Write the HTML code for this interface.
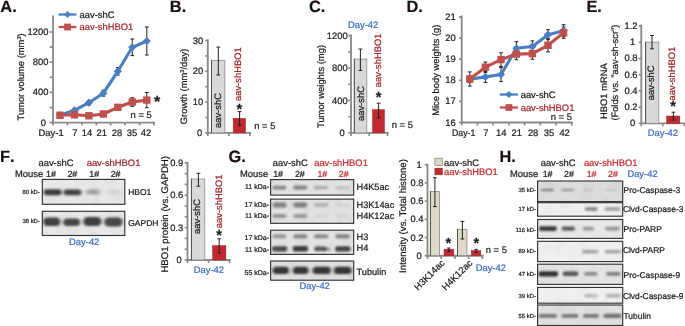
<!DOCTYPE html>
<html lang="en"><head><meta charset="utf-8"><title>Figure</title>
<style>html,body{margin:0;padding:0;background:#fff}svg{display:block}text{font-family:"Liberation Sans",Arial,Helvetica,sans-serif;text-rendering:geometricPrecision;stroke-width:0.22px;paint-order:stroke}</style></head><body>
<svg width="685" height="326" viewBox="0 0 685 326">
<defs><filter id="b0" x="-30%" y="-120%" width="160%" height="340%"><feGaussianBlur stdDeviation="1.3 1.0"/></filter><filter id="b1" x="-30%" y="-120%" width="160%" height="340%"><feGaussianBlur stdDeviation="1.5 1.2"/></filter><filter id="b2" x="-30%" y="-120%" width="160%" height="340%"><feGaussianBlur stdDeviation="2.0 1.5"/></filter><filter id="nz" x="0" y="0" width="100%" height="100%"><feTurbulence type="fractalNoise" baseFrequency="0.09" numOctaves="2" seed="7" result="t"/><feColorMatrix in="t" type="matrix" values="0 0 0 0 0  0 0 0 0 0  0 0 0 0 0  0.9 0 0 0 -0.36"/></filter></defs>
<rect x="0.0" y="0.0" width="685.0" height="326.0" fill="#ffffff" stroke="none" stroke-width="1.0"/>
<text x="0.3" y="11.7" font-size="16.4" font-weight="bold" fill="#1a1010" stroke="#1a1010" style="stroke-width:0.18px;font-kerning:none">A.</text>
<line x1="53.0" y1="15.4" x2="53.0" y2="123.5" stroke="#898989" stroke-width="1.85" stroke-linecap="butt"/>
<line x1="49.6" y1="122.6" x2="53.0" y2="122.6" stroke="#898989" stroke-width="1.665" stroke-linecap="butt"/>
<line x1="49.6" y1="107.5" x2="53.0" y2="107.5" stroke="#898989" stroke-width="1.665" stroke-linecap="butt"/>
<line x1="49.6" y1="92.4" x2="53.0" y2="92.4" stroke="#898989" stroke-width="1.665" stroke-linecap="butt"/>
<line x1="49.6" y1="77.3" x2="53.0" y2="77.3" stroke="#898989" stroke-width="1.665" stroke-linecap="butt"/>
<line x1="49.6" y1="62.2" x2="53.0" y2="62.2" stroke="#898989" stroke-width="1.665" stroke-linecap="butt"/>
<line x1="49.6" y1="47.1" x2="53.0" y2="47.1" stroke="#898989" stroke-width="1.665" stroke-linecap="butt"/>
<line x1="49.6" y1="32.0" x2="53.0" y2="32.0" stroke="#898989" stroke-width="1.665" stroke-linecap="butt"/>
<text x="46.0" y="125.6" font-size="9.4" fill="#1a1a1a" stroke="#1a1a1a" text-anchor="end">0</text>
<text x="48.4" y="95.4" font-size="9.4" fill="#1a1a1a" stroke="#1a1a1a" text-anchor="end">400</text>
<text x="48.4" y="65.2" font-size="9.4" fill="#1a1a1a" stroke="#1a1a1a" text-anchor="end">800</text>
<text x="48.4" y="35.0" font-size="9.4" fill="#1a1a1a" stroke="#1a1a1a" text-anchor="end">1200</text>
<line x1="52.1" y1="122.6" x2="154.9" y2="122.6" stroke="#898989" stroke-width="1.85" stroke-linecap="butt"/>
<line x1="53.0" y1="122.6" x2="53.0" y2="125.4" stroke="#898989" stroke-width="1.665" stroke-linecap="butt"/>
<line x1="67.4" y1="122.6" x2="67.4" y2="125.4" stroke="#898989" stroke-width="1.665" stroke-linecap="butt"/>
<line x1="81.9" y1="122.6" x2="81.9" y2="125.4" stroke="#898989" stroke-width="1.665" stroke-linecap="butt"/>
<line x1="96.3" y1="122.6" x2="96.3" y2="125.4" stroke="#898989" stroke-width="1.665" stroke-linecap="butt"/>
<line x1="110.7" y1="122.6" x2="110.7" y2="125.4" stroke="#898989" stroke-width="1.665" stroke-linecap="butt"/>
<line x1="125.2" y1="122.6" x2="125.2" y2="125.4" stroke="#898989" stroke-width="1.665" stroke-linecap="butt"/>
<line x1="139.6" y1="122.6" x2="139.6" y2="125.4" stroke="#898989" stroke-width="1.665" stroke-linecap="butt"/>
<line x1="154.0" y1="122.6" x2="154.0" y2="125.4" stroke="#898989" stroke-width="1.665" stroke-linecap="butt"/>
<text transform="translate(24.3 120.5) rotate(-90)" font-size="9.4" fill="#1a1a1a" stroke="#1a1a1a" text-anchor="start">Tumor volume (mm<tspan dy="-3.2" font-size="5.6">3</tspan><tspan dy="3.2">)</tspan></text>
<text x="74.8" y="136.4" font-size="9.4" fill="#1a1a1a" stroke="#1a1a1a" text-anchor="middle">7</text>
<text x="87.0" y="136.4" font-size="9.4" fill="#1a1a1a" stroke="#1a1a1a" text-anchor="middle">14</text>
<text x="101.8" y="136.4" font-size="9.4" fill="#1a1a1a" stroke="#1a1a1a" text-anchor="middle">21</text>
<text x="117.0" y="136.4" font-size="9.4" fill="#1a1a1a" stroke="#1a1a1a" text-anchor="middle">28</text>
<text x="132.0" y="136.4" font-size="9.4" fill="#1a1a1a" stroke="#1a1a1a" text-anchor="middle">35</text>
<text x="146.0" y="136.4" font-size="9.4" fill="#1a1a1a" stroke="#1a1a1a" text-anchor="middle">42</text>
<text x="38.6" y="136.4" font-size="9.4" fill="#1a1a1a" stroke="#1a1a1a" text-anchor="start">Day-1</text>
<line x1="60.0" y1="114.0" x2="60.0" y2="116.4" stroke="#1a1a1a" stroke-width="0.95" stroke-linecap="butt"/>
<line x1="58.1" y1="114.0" x2="61.9" y2="114.0" stroke="#1a1a1a" stroke-width="0.95" stroke-linecap="butt"/>
<line x1="58.1" y1="116.4" x2="61.9" y2="116.4" stroke="#1a1a1a" stroke-width="0.95" stroke-linecap="butt"/>
<line x1="74.5" y1="108.7" x2="74.5" y2="111.9" stroke="#1a1a1a" stroke-width="0.95" stroke-linecap="butt"/>
<line x1="72.6" y1="108.7" x2="76.4" y2="108.7" stroke="#1a1a1a" stroke-width="0.95" stroke-linecap="butt"/>
<line x1="72.6" y1="111.9" x2="76.4" y2="111.9" stroke="#1a1a1a" stroke-width="0.95" stroke-linecap="butt"/>
<line x1="88.9" y1="100.5" x2="88.9" y2="104.9" stroke="#1a1a1a" stroke-width="0.95" stroke-linecap="butt"/>
<line x1="87.0" y1="100.5" x2="90.8" y2="100.5" stroke="#1a1a1a" stroke-width="0.95" stroke-linecap="butt"/>
<line x1="87.0" y1="104.9" x2="90.8" y2="104.9" stroke="#1a1a1a" stroke-width="0.95" stroke-linecap="butt"/>
<line x1="103.4" y1="90.2" x2="103.4" y2="96.2" stroke="#1a1a1a" stroke-width="0.95" stroke-linecap="butt"/>
<line x1="101.5" y1="90.2" x2="105.3" y2="90.2" stroke="#1a1a1a" stroke-width="0.95" stroke-linecap="butt"/>
<line x1="101.5" y1="96.2" x2="105.3" y2="96.2" stroke="#1a1a1a" stroke-width="0.95" stroke-linecap="butt"/>
<line x1="117.8" y1="67.5" x2="117.8" y2="75.1" stroke="#1a1a1a" stroke-width="0.95" stroke-linecap="butt"/>
<line x1="115.9" y1="67.5" x2="119.7" y2="67.5" stroke="#1a1a1a" stroke-width="0.95" stroke-linecap="butt"/>
<line x1="115.9" y1="75.1" x2="119.7" y2="75.1" stroke="#1a1a1a" stroke-width="0.95" stroke-linecap="butt"/>
<line x1="132.3" y1="39.0" x2="132.3" y2="55.6" stroke="#1a1a1a" stroke-width="0.95" stroke-linecap="butt"/>
<line x1="130.4" y1="39.0" x2="134.2" y2="39.0" stroke="#1a1a1a" stroke-width="0.95" stroke-linecap="butt"/>
<line x1="130.4" y1="55.6" x2="134.2" y2="55.6" stroke="#1a1a1a" stroke-width="0.95" stroke-linecap="butt"/>
<line x1="146.8" y1="27.0" x2="146.8" y2="55.0" stroke="#1a1a1a" stroke-width="0.95" stroke-linecap="butt"/>
<line x1="144.9" y1="27.0" x2="148.7" y2="27.0" stroke="#1a1a1a" stroke-width="0.95" stroke-linecap="butt"/>
<line x1="144.9" y1="55.0" x2="148.7" y2="55.0" stroke="#1a1a1a" stroke-width="0.95" stroke-linecap="butt"/>
<line x1="60.0" y1="114.1" x2="60.0" y2="116.5" stroke="#1a1a1a" stroke-width="0.95" stroke-linecap="butt"/>
<line x1="58.1" y1="114.1" x2="61.9" y2="114.1" stroke="#1a1a1a" stroke-width="0.95" stroke-linecap="butt"/>
<line x1="58.1" y1="116.5" x2="61.9" y2="116.5" stroke="#1a1a1a" stroke-width="0.95" stroke-linecap="butt"/>
<line x1="74.5" y1="113.6" x2="74.5" y2="116.0" stroke="#1a1a1a" stroke-width="0.95" stroke-linecap="butt"/>
<line x1="72.6" y1="113.6" x2="76.4" y2="113.6" stroke="#1a1a1a" stroke-width="0.95" stroke-linecap="butt"/>
<line x1="72.6" y1="116.0" x2="76.4" y2="116.0" stroke="#1a1a1a" stroke-width="0.95" stroke-linecap="butt"/>
<line x1="88.9" y1="114.4" x2="88.9" y2="117.2" stroke="#1a1a1a" stroke-width="0.95" stroke-linecap="butt"/>
<line x1="87.0" y1="114.4" x2="90.8" y2="114.4" stroke="#1a1a1a" stroke-width="0.95" stroke-linecap="butt"/>
<line x1="87.0" y1="117.2" x2="90.8" y2="117.2" stroke="#1a1a1a" stroke-width="0.95" stroke-linecap="butt"/>
<line x1="103.4" y1="112.4" x2="103.4" y2="115.6" stroke="#1a1a1a" stroke-width="0.95" stroke-linecap="butt"/>
<line x1="101.5" y1="112.4" x2="105.3" y2="112.4" stroke="#1a1a1a" stroke-width="0.95" stroke-linecap="butt"/>
<line x1="101.5" y1="115.6" x2="105.3" y2="115.6" stroke="#1a1a1a" stroke-width="0.95" stroke-linecap="butt"/>
<line x1="117.8" y1="104.9" x2="117.8" y2="109.7" stroke="#1a1a1a" stroke-width="0.95" stroke-linecap="butt"/>
<line x1="115.9" y1="104.9" x2="119.7" y2="104.9" stroke="#1a1a1a" stroke-width="0.95" stroke-linecap="butt"/>
<line x1="115.9" y1="109.7" x2="119.7" y2="109.7" stroke="#1a1a1a" stroke-width="0.95" stroke-linecap="butt"/>
<line x1="132.3" y1="97.7" x2="132.3" y2="106.3" stroke="#1a1a1a" stroke-width="0.95" stroke-linecap="butt"/>
<line x1="130.4" y1="97.7" x2="134.2" y2="97.7" stroke="#1a1a1a" stroke-width="0.95" stroke-linecap="butt"/>
<line x1="130.4" y1="106.3" x2="134.2" y2="106.3" stroke="#1a1a1a" stroke-width="0.95" stroke-linecap="butt"/>
<line x1="146.8" y1="92.5" x2="146.8" y2="107.7" stroke="#1a1a1a" stroke-width="0.95" stroke-linecap="butt"/>
<line x1="144.9" y1="92.5" x2="148.7" y2="92.5" stroke="#1a1a1a" stroke-width="0.95" stroke-linecap="butt"/>
<line x1="144.9" y1="107.7" x2="148.7" y2="107.7" stroke="#1a1a1a" stroke-width="0.95" stroke-linecap="butt"/>
<polyline points="60.0,115.2 74.5,110.3 88.9,102.7 103.4,93.2 117.8,71.3 132.3,47.3 146.8,41.0" fill="none" stroke="#4a7ebf" stroke-width="3.1" stroke-linejoin="round" stroke-linecap="round"/>
<polygon points="55.9,115.2 60.0,111.1 64.1,115.2 60.0,119.3" fill="#4a7ebf"/>
<polygon points="70.4,110.3 74.5,106.2 78.6,110.3 74.5,114.4" fill="#4a7ebf"/>
<polygon points="84.8,102.7 88.9,98.6 93.0,102.7 88.9,106.8" fill="#4a7ebf"/>
<polygon points="99.3,93.2 103.4,89.1 107.5,93.2 103.4,97.3" fill="#4a7ebf"/>
<polygon points="113.7,71.3 117.8,67.2 121.9,71.3 117.8,75.4" fill="#4a7ebf"/>
<polygon points="128.2,47.3 132.3,43.2 136.4,47.3 132.3,51.4" fill="#4a7ebf"/>
<polygon points="142.7,41.0 146.8,36.9 150.9,41.0 146.8,45.1" fill="#4a7ebf"/>
<polyline points="60.0,115.3 74.5,114.8 88.9,115.8 103.4,114.0 117.8,107.3 132.3,102.0 146.8,100.1" fill="none" stroke="#c0504d" stroke-width="3.1" stroke-linejoin="round" stroke-linecap="round"/>
<rect x="56.3" y="111.6" width="7.4" height="7.4" fill="#c0504d" stroke="none" stroke-width="1.0"/>
<rect x="70.8" y="111.1" width="7.4" height="7.4" fill="#c0504d" stroke="none" stroke-width="1.0"/>
<rect x="85.2" y="112.1" width="7.4" height="7.4" fill="#c0504d" stroke="none" stroke-width="1.0"/>
<rect x="99.7" y="110.3" width="7.4" height="7.4" fill="#c0504d" stroke="none" stroke-width="1.0"/>
<rect x="114.1" y="103.6" width="7.4" height="7.4" fill="#c0504d" stroke="none" stroke-width="1.0"/>
<rect x="128.6" y="98.3" width="7.4" height="7.4" fill="#c0504d" stroke="none" stroke-width="1.0"/>
<rect x="143.1" y="96.4" width="7.4" height="7.4" fill="#c0504d" stroke="none" stroke-width="1.0"/>
<line x1="58.6" y1="14.5" x2="76.4" y2="14.5" stroke="#4a7ebf" stroke-width="2.3" stroke-linecap="butt"/>
<polygon points="64.0,14.5 67.5,11.0 71.0,14.5 67.5,18.0" fill="#4a7ebf"/>
<line x1="58.6" y1="27.0" x2="76.4" y2="27.0" stroke="#c0504d" stroke-width="2.3" stroke-linecap="butt"/>
<rect x="64.1" y="23.6" width="6.8" height="6.8" fill="#c0504d" stroke="none" stroke-width="1.0"/>
<text x="79.6" y="17.6" font-size="9.4" fill="#1a1a1a" stroke="#1a1a1a" text-anchor="start">aav-shC</text>
<text x="79.6" y="30.1" font-size="9.4" fill="#9e2428" stroke="#9e2428" text-anchor="start">aav-shHBO1</text>
<text x="130.6" y="118.2" font-size="9.4" fill="#1a1a1a" stroke="#1a1a1a" text-anchor="start">n = 5</text>
<text x="157.0" y="106.6" font-size="16" fill="#1a1a1a" stroke="#1a1a1a" text-anchor="middle" font-weight="bold">*</text>
<text x="169.8" y="11.7" font-size="16.4" font-weight="bold" fill="#1a1010" stroke="#1a1010" style="stroke-width:0.18px;font-kerning:none">B.</text>
<line x1="207.8" y1="39.3" x2="207.8" y2="133.8" stroke="#898989" stroke-width="1.85" stroke-linecap="butt"/>
<line x1="205.2" y1="132.9" x2="207.8" y2="132.9" stroke="#898989" stroke-width="1.665" stroke-linecap="butt"/>
<line x1="205.2" y1="117.5" x2="207.8" y2="117.5" stroke="#898989" stroke-width="1.665" stroke-linecap="butt"/>
<line x1="205.2" y1="102.1" x2="207.8" y2="102.1" stroke="#898989" stroke-width="1.665" stroke-linecap="butt"/>
<line x1="205.2" y1="86.7" x2="207.8" y2="86.7" stroke="#898989" stroke-width="1.665" stroke-linecap="butt"/>
<line x1="205.2" y1="71.3" x2="207.8" y2="71.3" stroke="#898989" stroke-width="1.665" stroke-linecap="butt"/>
<line x1="205.2" y1="55.9" x2="207.8" y2="55.9" stroke="#898989" stroke-width="1.665" stroke-linecap="butt"/>
<line x1="205.2" y1="40.5" x2="207.8" y2="40.5" stroke="#898989" stroke-width="1.665" stroke-linecap="butt"/>
<text x="202.3" y="135.9" font-size="9.4" fill="#1a1a1a" stroke="#1a1a1a" text-anchor="end">0</text>
<text x="203.2" y="105.1" font-size="9.4" fill="#1a1a1a" stroke="#1a1a1a" text-anchor="end">10</text>
<text x="203.2" y="74.3" font-size="9.4" fill="#1a1a1a" stroke="#1a1a1a" text-anchor="end">20</text>
<text x="203.2" y="43.5" font-size="9.4" fill="#1a1a1a" stroke="#1a1a1a" text-anchor="end">30</text>
<line x1="206.9" y1="132.9" x2="251.1" y2="132.9" stroke="#898989" stroke-width="1.85" stroke-linecap="butt"/>
<line x1="207.8" y1="132.9" x2="207.8" y2="135.9" stroke="#898989" stroke-width="1.665" stroke-linecap="butt"/>
<line x1="228.9" y1="132.9" x2="228.9" y2="135.9" stroke="#898989" stroke-width="1.665" stroke-linecap="butt"/>
<line x1="249.9" y1="132.9" x2="249.9" y2="135.9" stroke="#898989" stroke-width="1.665" stroke-linecap="butt"/>
<rect x="211.5" y="60.3" width="13.4" height="72.6" fill="#d9d9d9" stroke="#8c8c8c" stroke-width="0.8"/>
<line x1="211.5" y1="59.9" x2="211.5" y2="132.9" stroke="#3a3a3a" stroke-width="0.8" stroke-linecap="butt"/>
<line x1="218.3" y1="47.1" x2="218.3" y2="75.0" stroke="#1a1a1a" stroke-width="0.95" stroke-linecap="butt"/>
<line x1="216.4" y1="47.1" x2="220.2" y2="47.1" stroke="#1a1a1a" stroke-width="0.95" stroke-linecap="butt"/>
<line x1="216.4" y1="75.0" x2="220.2" y2="75.0" stroke="#1a1a1a" stroke-width="0.95" stroke-linecap="butt"/>
<rect x="233.2" y="118.3" width="12.3" height="14.6" fill="#be2a30" stroke="#a3242a" stroke-width="0.5"/>
<line x1="239.6" y1="111.6" x2="239.6" y2="125.4" stroke="#1a1a1a" stroke-width="0.95" stroke-linecap="butt"/>
<line x1="237.7" y1="111.6" x2="241.5" y2="111.6" stroke="#1a1a1a" stroke-width="0.95" stroke-linecap="butt"/>
<line x1="237.7" y1="125.4" x2="241.5" y2="125.4" stroke="#1a1a1a" stroke-width="0.95" stroke-linecap="butt"/>
<text transform="translate(220.9 128.0) rotate(-90)" font-size="9.4" fill="#1a1a1a" stroke="#1a1a1a" text-anchor="start">aav-shC</text>
<text transform="translate(241.4 101.0) rotate(-90)" font-size="9.4" fill="#9e2428" stroke="#9e2428" text-anchor="start">aav-shHBO1</text>
<text x="239.3" y="113.7" font-size="14.6" fill="#1a1a1a" stroke="#1a1a1a" text-anchor="middle" font-weight="bold">*</text>
<text x="254.3" y="129.3" font-size="9.4" fill="#1a1a1a" stroke="#1a1a1a" text-anchor="start">n = 5</text>
<text transform="translate(186.9 124.2) rotate(-90)" font-size="9.4" fill="#1a1a1a" stroke="#1a1a1a" text-anchor="start">Growth (mm<tspan dy="-3.2" font-size="5.6">3</tspan><tspan dy="3.2">/day)</tspan></text>
<text x="308.9" y="11.7" font-size="16.4" font-weight="bold" fill="#1a1010" stroke="#1a1010" style="stroke-width:0.18px;font-kerning:none">C.</text>
<line x1="351.0" y1="34.5" x2="351.0" y2="133.8" stroke="#898989" stroke-width="1.85" stroke-linecap="butt"/>
<line x1="348.2" y1="132.9" x2="351.0" y2="132.9" stroke="#898989" stroke-width="1.665" stroke-linecap="butt"/>
<line x1="348.2" y1="116.7" x2="351.0" y2="116.7" stroke="#898989" stroke-width="1.665" stroke-linecap="butt"/>
<line x1="348.2" y1="100.5" x2="351.0" y2="100.5" stroke="#898989" stroke-width="1.665" stroke-linecap="butt"/>
<line x1="348.2" y1="84.3" x2="351.0" y2="84.3" stroke="#898989" stroke-width="1.665" stroke-linecap="butt"/>
<line x1="348.2" y1="68.1" x2="351.0" y2="68.1" stroke="#898989" stroke-width="1.665" stroke-linecap="butt"/>
<line x1="348.2" y1="51.9" x2="351.0" y2="51.9" stroke="#898989" stroke-width="1.665" stroke-linecap="butt"/>
<line x1="348.2" y1="35.7" x2="351.0" y2="35.7" stroke="#898989" stroke-width="1.665" stroke-linecap="butt"/>
<text x="344.7" y="135.9" font-size="9.4" fill="#1a1a1a" stroke="#1a1a1a" text-anchor="end">0</text>
<text x="347.7" y="103.5" font-size="9.4" fill="#1a1a1a" stroke="#1a1a1a" text-anchor="end">400</text>
<text x="347.7" y="71.1" font-size="9.4" fill="#1a1a1a" stroke="#1a1a1a" text-anchor="end">800</text>
<text x="347.7" y="38.7" font-size="9.4" fill="#1a1a1a" stroke="#1a1a1a" text-anchor="end">1200</text>
<line x1="350.1" y1="132.9" x2="388.7" y2="132.9" stroke="#898989" stroke-width="1.85" stroke-linecap="butt"/>
<line x1="351.0" y1="132.9" x2="351.0" y2="135.9" stroke="#898989" stroke-width="1.665" stroke-linecap="butt"/>
<line x1="369.2" y1="132.9" x2="369.2" y2="135.9" stroke="#898989" stroke-width="1.665" stroke-linecap="butt"/>
<line x1="387.5" y1="132.9" x2="387.5" y2="135.9" stroke="#898989" stroke-width="1.665" stroke-linecap="butt"/>
<rect x="354.3" y="59.1" width="12.5" height="73.8" fill="#d9d9d9" stroke="#8c8c8c" stroke-width="0.8"/>
<line x1="354.3" y1="58.7" x2="354.3" y2="132.9" stroke="#3a3a3a" stroke-width="0.8" stroke-linecap="butt"/>
<line x1="360.4" y1="49.0" x2="360.4" y2="70.4" stroke="#1a1a1a" stroke-width="0.95" stroke-linecap="butt"/>
<line x1="358.5" y1="49.0" x2="362.3" y2="49.0" stroke="#1a1a1a" stroke-width="0.95" stroke-linecap="butt"/>
<line x1="358.5" y1="70.4" x2="362.3" y2="70.4" stroke="#1a1a1a" stroke-width="0.95" stroke-linecap="butt"/>
<rect x="372.5" y="109.6" width="12.0" height="23.3" fill="#be2a30" stroke="#a3242a" stroke-width="0.5"/>
<line x1="378.6" y1="103.2" x2="378.6" y2="117.8" stroke="#1a1a1a" stroke-width="0.95" stroke-linecap="butt"/>
<line x1="376.7" y1="103.2" x2="380.5" y2="103.2" stroke="#1a1a1a" stroke-width="0.95" stroke-linecap="butt"/>
<line x1="376.7" y1="117.8" x2="380.5" y2="117.8" stroke="#1a1a1a" stroke-width="0.95" stroke-linecap="butt"/>
<text transform="translate(363.7 121.0) rotate(-90)" font-size="9.4" fill="#1a1a1a" stroke="#1a1a1a" text-anchor="start">aav-shC</text>
<text transform="translate(380.6 87.2) rotate(-90)" font-size="9.4" fill="#9e2428" stroke="#9e2428" text-anchor="start">aav-shHBO1</text>
<text x="378.6" y="101.9" font-size="14.6" fill="#1a1a1a" stroke="#1a1a1a" text-anchor="middle" font-weight="bold">*</text>
<text x="391.8" y="128.3" font-size="9.4" fill="#1a1a1a" stroke="#1a1a1a" text-anchor="start">n = 5</text>
<text x="348.0" y="27.6" font-size="9.4" fill="#3a6bc2" stroke="#3a6bc2" text-anchor="start">Day-42</text>
<text transform="translate(324.4 128.0) rotate(-90)" font-size="9.4" fill="#1a1a1a" stroke="#1a1a1a" text-anchor="start">Tumor weights (mg)</text>
<text x="406.5" y="11.7" font-size="16.4" font-weight="bold" fill="#1a1010" stroke="#1a1010" style="stroke-width:0.18px;font-kerning:none">D.</text>
<line x1="461.7" y1="15.5" x2="461.7" y2="123.4" stroke="#898989" stroke-width="1.85" stroke-linecap="butt"/>
<line x1="458.9" y1="122.5" x2="461.7" y2="122.5" stroke="#898989" stroke-width="1.665" stroke-linecap="butt"/>
<line x1="458.9" y1="101.4" x2="461.7" y2="101.4" stroke="#898989" stroke-width="1.665" stroke-linecap="butt"/>
<line x1="458.9" y1="80.3" x2="461.7" y2="80.3" stroke="#898989" stroke-width="1.665" stroke-linecap="butt"/>
<line x1="458.9" y1="59.2" x2="461.7" y2="59.2" stroke="#898989" stroke-width="1.665" stroke-linecap="butt"/>
<line x1="458.9" y1="38.1" x2="461.7" y2="38.1" stroke="#898989" stroke-width="1.665" stroke-linecap="butt"/>
<line x1="458.9" y1="17.0" x2="461.7" y2="17.0" stroke="#898989" stroke-width="1.665" stroke-linecap="butt"/>
<text x="455.7" y="125.5" font-size="9.4" fill="#1a1a1a" stroke="#1a1a1a" text-anchor="end">16</text>
<text x="455.7" y="104.4" font-size="9.4" fill="#1a1a1a" stroke="#1a1a1a" text-anchor="end">17</text>
<text x="455.7" y="83.3" font-size="9.4" fill="#1a1a1a" stroke="#1a1a1a" text-anchor="end">18</text>
<text x="455.7" y="62.2" font-size="9.4" fill="#1a1a1a" stroke="#1a1a1a" text-anchor="end">19</text>
<text x="455.7" y="41.1" font-size="9.4" fill="#1a1a1a" stroke="#1a1a1a" text-anchor="end">20</text>
<text x="455.7" y="20.0" font-size="9.4" fill="#1a1a1a" stroke="#1a1a1a" text-anchor="end">21</text>
<line x1="460.8" y1="122.5" x2="572.9" y2="122.5" stroke="#898989" stroke-width="1.85" stroke-linecap="butt"/>
<line x1="461.7" y1="122.5" x2="461.7" y2="125.5" stroke="#898989" stroke-width="1.665" stroke-linecap="butt"/>
<line x1="477.4" y1="122.5" x2="477.4" y2="125.5" stroke="#898989" stroke-width="1.665" stroke-linecap="butt"/>
<line x1="493.1" y1="122.5" x2="493.1" y2="125.5" stroke="#898989" stroke-width="1.665" stroke-linecap="butt"/>
<line x1="508.9" y1="122.5" x2="508.9" y2="125.5" stroke="#898989" stroke-width="1.665" stroke-linecap="butt"/>
<line x1="524.6" y1="122.5" x2="524.6" y2="125.5" stroke="#898989" stroke-width="1.665" stroke-linecap="butt"/>
<line x1="540.3" y1="122.5" x2="540.3" y2="125.5" stroke="#898989" stroke-width="1.665" stroke-linecap="butt"/>
<line x1="556.0" y1="122.5" x2="556.0" y2="125.5" stroke="#898989" stroke-width="1.665" stroke-linecap="butt"/>
<line x1="571.7" y1="122.5" x2="571.7" y2="125.5" stroke="#898989" stroke-width="1.665" stroke-linecap="butt"/>
<text x="485.9" y="136.3" font-size="9.4" fill="#1a1a1a" stroke="#1a1a1a" text-anchor="middle">7</text>
<text x="501.2" y="136.3" font-size="9.4" fill="#1a1a1a" stroke="#1a1a1a" text-anchor="middle">14</text>
<text x="516.8" y="136.3" font-size="9.4" fill="#1a1a1a" stroke="#1a1a1a" text-anchor="middle">21</text>
<text x="533.1" y="136.3" font-size="9.4" fill="#1a1a1a" stroke="#1a1a1a" text-anchor="middle">28</text>
<text x="549.0" y="136.3" font-size="9.4" fill="#1a1a1a" stroke="#1a1a1a" text-anchor="middle">35</text>
<text x="564.6" y="136.3" font-size="9.4" fill="#1a1a1a" stroke="#1a1a1a" text-anchor="middle">42</text>
<text x="452.0" y="136.3" font-size="9.4" fill="#1a1a1a" stroke="#1a1a1a" text-anchor="start" textLength="23.3" lengthAdjust="spacingAndGlyphs">Day-1</text>
<line x1="469.8" y1="75.8" x2="469.8" y2="82.6" stroke="#1a1a1a" stroke-width="0.95" stroke-linecap="butt"/>
<line x1="467.9" y1="75.8" x2="471.7" y2="75.8" stroke="#1a1a1a" stroke-width="0.95" stroke-linecap="butt"/>
<line x1="467.9" y1="82.6" x2="471.7" y2="82.6" stroke="#1a1a1a" stroke-width="0.95" stroke-linecap="butt"/>
<line x1="485.4" y1="71.4" x2="485.4" y2="82.4" stroke="#1a1a1a" stroke-width="0.95" stroke-linecap="butt"/>
<line x1="483.5" y1="71.4" x2="487.3" y2="71.4" stroke="#1a1a1a" stroke-width="0.95" stroke-linecap="butt"/>
<line x1="483.5" y1="82.4" x2="487.3" y2="82.4" stroke="#1a1a1a" stroke-width="0.95" stroke-linecap="butt"/>
<line x1="501.0" y1="67.4" x2="501.0" y2="81.6" stroke="#1a1a1a" stroke-width="0.95" stroke-linecap="butt"/>
<line x1="499.1" y1="67.4" x2="502.9" y2="67.4" stroke="#1a1a1a" stroke-width="0.95" stroke-linecap="butt"/>
<line x1="499.1" y1="81.6" x2="502.9" y2="81.6" stroke="#1a1a1a" stroke-width="0.95" stroke-linecap="butt"/>
<line x1="516.4" y1="41.7" x2="516.4" y2="54.9" stroke="#1a1a1a" stroke-width="0.95" stroke-linecap="butt"/>
<line x1="514.5" y1="41.7" x2="518.3" y2="41.7" stroke="#1a1a1a" stroke-width="0.95" stroke-linecap="butt"/>
<line x1="514.5" y1="54.9" x2="518.3" y2="54.9" stroke="#1a1a1a" stroke-width="0.95" stroke-linecap="butt"/>
<line x1="532.4" y1="40.9" x2="532.4" y2="52.1" stroke="#1a1a1a" stroke-width="0.95" stroke-linecap="butt"/>
<line x1="530.5" y1="40.9" x2="534.3" y2="40.9" stroke="#1a1a1a" stroke-width="0.95" stroke-linecap="butt"/>
<line x1="530.5" y1="52.1" x2="534.3" y2="52.1" stroke="#1a1a1a" stroke-width="0.95" stroke-linecap="butt"/>
<line x1="548.0" y1="29.7" x2="548.0" y2="39.7" stroke="#1a1a1a" stroke-width="0.95" stroke-linecap="butt"/>
<line x1="546.1" y1="29.7" x2="549.9" y2="29.7" stroke="#1a1a1a" stroke-width="0.95" stroke-linecap="butt"/>
<line x1="546.1" y1="39.7" x2="549.9" y2="39.7" stroke="#1a1a1a" stroke-width="0.95" stroke-linecap="butt"/>
<line x1="563.6" y1="24.7" x2="563.6" y2="36.7" stroke="#1a1a1a" stroke-width="0.95" stroke-linecap="butt"/>
<line x1="561.7" y1="24.7" x2="565.5" y2="24.7" stroke="#1a1a1a" stroke-width="0.95" stroke-linecap="butt"/>
<line x1="561.7" y1="36.7" x2="565.5" y2="36.7" stroke="#1a1a1a" stroke-width="0.95" stroke-linecap="butt"/>
<line x1="469.8" y1="71.9" x2="469.8" y2="86.1" stroke="#1a1a1a" stroke-width="0.95" stroke-linecap="butt"/>
<line x1="467.9" y1="71.9" x2="471.7" y2="71.9" stroke="#1a1a1a" stroke-width="0.95" stroke-linecap="butt"/>
<line x1="467.9" y1="86.1" x2="471.7" y2="86.1" stroke="#1a1a1a" stroke-width="0.95" stroke-linecap="butt"/>
<line x1="485.4" y1="62.0" x2="485.4" y2="72.4" stroke="#1a1a1a" stroke-width="0.95" stroke-linecap="butt"/>
<line x1="483.5" y1="62.0" x2="487.3" y2="62.0" stroke="#1a1a1a" stroke-width="0.95" stroke-linecap="butt"/>
<line x1="483.5" y1="72.4" x2="487.3" y2="72.4" stroke="#1a1a1a" stroke-width="0.95" stroke-linecap="butt"/>
<line x1="501.0" y1="52.8" x2="501.0" y2="66.4" stroke="#1a1a1a" stroke-width="0.95" stroke-linecap="butt"/>
<line x1="499.1" y1="52.8" x2="502.9" y2="52.8" stroke="#1a1a1a" stroke-width="0.95" stroke-linecap="butt"/>
<line x1="499.1" y1="66.4" x2="502.9" y2="66.4" stroke="#1a1a1a" stroke-width="0.95" stroke-linecap="butt"/>
<line x1="516.4" y1="48.5" x2="516.4" y2="59.7" stroke="#1a1a1a" stroke-width="0.95" stroke-linecap="butt"/>
<line x1="514.5" y1="48.5" x2="518.3" y2="48.5" stroke="#1a1a1a" stroke-width="0.95" stroke-linecap="butt"/>
<line x1="514.5" y1="59.7" x2="518.3" y2="59.7" stroke="#1a1a1a" stroke-width="0.95" stroke-linecap="butt"/>
<line x1="532.4" y1="48.0" x2="532.4" y2="59.2" stroke="#1a1a1a" stroke-width="0.95" stroke-linecap="butt"/>
<line x1="530.5" y1="48.0" x2="534.3" y2="48.0" stroke="#1a1a1a" stroke-width="0.95" stroke-linecap="butt"/>
<line x1="530.5" y1="59.2" x2="534.3" y2="59.2" stroke="#1a1a1a" stroke-width="0.95" stroke-linecap="butt"/>
<line x1="548.0" y1="38.7" x2="548.0" y2="51.9" stroke="#1a1a1a" stroke-width="0.95" stroke-linecap="butt"/>
<line x1="546.1" y1="38.7" x2="549.9" y2="38.7" stroke="#1a1a1a" stroke-width="0.95" stroke-linecap="butt"/>
<line x1="546.1" y1="51.9" x2="549.9" y2="51.9" stroke="#1a1a1a" stroke-width="0.95" stroke-linecap="butt"/>
<line x1="563.6" y1="27.1" x2="563.6" y2="38.3" stroke="#1a1a1a" stroke-width="0.95" stroke-linecap="butt"/>
<line x1="561.7" y1="27.1" x2="565.5" y2="27.1" stroke="#1a1a1a" stroke-width="0.95" stroke-linecap="butt"/>
<line x1="561.7" y1="38.3" x2="565.5" y2="38.3" stroke="#1a1a1a" stroke-width="0.95" stroke-linecap="butt"/>
<polyline points="469.8,79.2 485.4,76.9 501.0,74.5 516.4,48.3 532.4,46.5 548.0,34.7 563.6,30.7" fill="none" stroke="#4a7ebf" stroke-width="3.1" stroke-linejoin="round" stroke-linecap="round"/>
<polygon points="465.7,79.2 469.8,75.1 473.9,79.2 469.8,83.3" fill="#4a7ebf"/>
<polygon points="481.3,76.9 485.4,72.8 489.5,76.9 485.4,81.0" fill="#4a7ebf"/>
<polygon points="496.9,74.5 501.0,70.4 505.1,74.5 501.0,78.6" fill="#4a7ebf"/>
<polygon points="512.3,48.3 516.4,44.2 520.5,48.3 516.4,52.4" fill="#4a7ebf"/>
<polygon points="528.3,46.5 532.4,42.4 536.5,46.5 532.4,50.6" fill="#4a7ebf"/>
<polygon points="543.9,34.7 548.0,30.6 552.1,34.7 548.0,38.8" fill="#4a7ebf"/>
<polygon points="559.5,30.7 563.6,26.6 567.7,30.7 563.6,34.8" fill="#4a7ebf"/>
<polyline points="469.8,79.0 485.4,67.2 501.0,59.6 516.4,54.1 532.4,53.6 548.0,45.3 563.6,32.7" fill="none" stroke="#c0504d" stroke-width="3.1" stroke-linejoin="round" stroke-linecap="round"/>
<rect x="466.1" y="75.3" width="7.4" height="7.4" fill="#c0504d" stroke="none" stroke-width="1.0"/>
<rect x="481.7" y="63.5" width="7.4" height="7.4" fill="#c0504d" stroke="none" stroke-width="1.0"/>
<rect x="497.3" y="55.9" width="7.4" height="7.4" fill="#c0504d" stroke="none" stroke-width="1.0"/>
<rect x="512.7" y="50.4" width="7.4" height="7.4" fill="#c0504d" stroke="none" stroke-width="1.0"/>
<rect x="528.7" y="49.9" width="7.4" height="7.4" fill="#c0504d" stroke="none" stroke-width="1.0"/>
<rect x="544.3" y="41.6" width="7.4" height="7.4" fill="#c0504d" stroke="none" stroke-width="1.0"/>
<rect x="559.9" y="29.0" width="7.4" height="7.4" fill="#c0504d" stroke="none" stroke-width="1.0"/>
<line x1="499.8" y1="94.5" x2="517.9" y2="94.5" stroke="#4a7ebf" stroke-width="2.3" stroke-linecap="butt"/>
<polygon points="505.4,94.5 508.9,91.0 512.4,94.5 508.9,98.0" fill="#4a7ebf"/>
<line x1="499.8" y1="107.5" x2="517.9" y2="107.5" stroke="#c0504d" stroke-width="2.3" stroke-linecap="butt"/>
<rect x="505.5" y="104.1" width="6.8" height="6.8" fill="#c0504d" stroke="none" stroke-width="1.0"/>
<text x="520.7" y="97.7" font-size="9.4" fill="#1a1a1a" stroke="#1a1a1a" text-anchor="start">aav-shC</text>
<text x="520.7" y="110.7" font-size="9.4" fill="#9e2428" stroke="#9e2428" text-anchor="start">aav-shHBO1</text>
<text x="550.8" y="120.4" font-size="9.4" fill="#1a1a1a" stroke="#1a1a1a" text-anchor="start">n = 5</text>
<text transform="translate(438.8 115.8) rotate(-90)" font-size="9.4" fill="#1a1a1a" stroke="#1a1a1a" text-anchor="start">Mice body weights (g)</text>
<text x="586.4" y="11.7" font-size="16.4" font-weight="bold" fill="#1a1010" stroke="#1a1010" style="stroke-width:0.18px;font-kerning:none">E.</text>
<line x1="641.3" y1="24.5" x2="641.3" y2="124.2" stroke="#898989" stroke-width="1.85" stroke-linecap="butt"/>
<line x1="638.7" y1="123.3" x2="641.3" y2="123.3" stroke="#898989" stroke-width="1.665" stroke-linecap="butt"/>
<line x1="638.7" y1="107.1" x2="641.3" y2="107.1" stroke="#898989" stroke-width="1.665" stroke-linecap="butt"/>
<line x1="638.7" y1="90.9" x2="641.3" y2="90.9" stroke="#898989" stroke-width="1.665" stroke-linecap="butt"/>
<line x1="638.7" y1="74.7" x2="641.3" y2="74.7" stroke="#898989" stroke-width="1.665" stroke-linecap="butt"/>
<line x1="638.7" y1="58.5" x2="641.3" y2="58.5" stroke="#898989" stroke-width="1.665" stroke-linecap="butt"/>
<line x1="638.7" y1="42.3" x2="641.3" y2="42.3" stroke="#898989" stroke-width="1.665" stroke-linecap="butt"/>
<line x1="638.7" y1="26.1" x2="641.3" y2="26.1" stroke="#898989" stroke-width="1.665" stroke-linecap="butt"/>
<text x="635.3" y="126.1" font-size="9.4" fill="#1a1a1a" stroke="#1a1a1a" text-anchor="end">0</text>
<text x="637.5" y="109.9" font-size="9.4" fill="#1a1a1a" stroke="#1a1a1a" text-anchor="end">0.2</text>
<text x="637.5" y="93.7" font-size="9.4" fill="#1a1a1a" stroke="#1a1a1a" text-anchor="end">0.4</text>
<text x="637.5" y="77.5" font-size="9.4" fill="#1a1a1a" stroke="#1a1a1a" text-anchor="end">0.6</text>
<text x="637.5" y="61.3" font-size="9.4" fill="#1a1a1a" stroke="#1a1a1a" text-anchor="end">0.8</text>
<text x="635.3" y="45.1" font-size="9.4" fill="#1a1a1a" stroke="#1a1a1a" text-anchor="end">1</text>
<text x="637.5" y="28.9" font-size="9.4" fill="#1a1a1a" stroke="#1a1a1a" text-anchor="end">1.2</text>
<line x1="640.4" y1="123.3" x2="685.5" y2="123.3" stroke="#898989" stroke-width="1.85" stroke-linecap="butt"/>
<line x1="641.3" y1="123.3" x2="641.3" y2="126.3" stroke="#898989" stroke-width="1.665" stroke-linecap="butt"/>
<line x1="662.8" y1="123.3" x2="662.8" y2="126.3" stroke="#898989" stroke-width="1.665" stroke-linecap="butt"/>
<line x1="684.4" y1="123.3" x2="684.4" y2="126.3" stroke="#898989" stroke-width="1.665" stroke-linecap="butt"/>
<rect x="645.6" y="42.1" width="13.2" height="81.2" fill="#d9d9d9" stroke="#8c8c8c" stroke-width="0.8"/>
<line x1="645.6" y1="41.7" x2="645.6" y2="123.3" stroke="#3a3a3a" stroke-width="0.8" stroke-linecap="butt"/>
<line x1="652.0" y1="35.5" x2="652.0" y2="48.8" stroke="#1a1a1a" stroke-width="0.95" stroke-linecap="butt"/>
<line x1="650.1" y1="35.5" x2="653.9" y2="35.5" stroke="#1a1a1a" stroke-width="0.95" stroke-linecap="butt"/>
<line x1="650.1" y1="48.8" x2="653.9" y2="48.8" stroke="#1a1a1a" stroke-width="0.95" stroke-linecap="butt"/>
<rect x="666.6" y="116.0" width="13.2" height="7.3" fill="#be2a30" stroke="#a3242a" stroke-width="0.5"/>
<line x1="673.4" y1="112.2" x2="673.4" y2="120.0" stroke="#1a1a1a" stroke-width="0.95" stroke-linecap="butt"/>
<line x1="671.5" y1="112.2" x2="675.3" y2="112.2" stroke="#1a1a1a" stroke-width="0.95" stroke-linecap="butt"/>
<line x1="671.5" y1="120.0" x2="675.3" y2="120.0" stroke="#1a1a1a" stroke-width="0.95" stroke-linecap="butt"/>
<text transform="translate(654.2 100.3) rotate(-90)" font-size="9.4" fill="#1a1a1a" stroke="#1a1a1a" text-anchor="start">aav-shC</text>
<text transform="translate(674.8 100.4) rotate(-90)" font-size="9.4" fill="#9e2428" stroke="#9e2428" text-anchor="start">aav-shHBO1</text>
<text x="673.1" y="111.4" font-size="14.6" fill="#1a1a1a" stroke="#1a1a1a" text-anchor="middle" font-weight="bold">*</text>
<text x="647.8" y="136.0" font-size="9.4" fill="#3a6bc2" stroke="#3a6bc2" text-anchor="start">Day-42</text>
<text transform="translate(606.6 119.0) rotate(-90)" font-size="9.4" fill="#1a1a1a" stroke="#1a1a1a" text-anchor="start">HBO1 mRNA</text>
<text transform="translate(617.6 120.6) rotate(-90)" font-size="9.4" fill="#1a1a1a" stroke="#1a1a1a" text-anchor="start" textLength="96.0" lengthAdjust="spacingAndGlyphs">(Folds vs. "aav-sh-scr")</text>
<text x="0.0" y="161.9" font-size="16.4" font-weight="bold" fill="#1a1010" stroke="#1a1010" style="stroke-width:0.18px;font-kerning:none">F.</text>
<text x="38.5" y="165.7" font-size="9.4" fill="#1a1a1a" stroke="#1a1a1a" text-anchor="start">aav-shC</text>
<text x="86.7" y="165.7" font-size="9.4" fill="#9e2428" stroke="#9e2428" text-anchor="start">aav-shHBO1</text>
<text x="15.0" y="176.8" font-size="9.4" fill="#1a1a1a" stroke="#1a1a1a" text-anchor="start">Mouse</text>
<text x="46.0" y="176.6" font-size="8.9" fill="#1a1a1a" stroke="#1a1a1a" text-anchor="start">1#</text>
<text x="67.4" y="176.6" font-size="8.9" fill="#1a1a1a" stroke="#1a1a1a" text-anchor="start">2#</text>
<text x="89.3" y="176.6" font-size="8.9" fill="#1a1a1a" stroke="#1a1a1a" text-anchor="start">1#</text>
<text x="110.7" y="176.6" font-size="8.9" fill="#1a1a1a" stroke="#1a1a1a" text-anchor="start">2#</text>
<clipPath id="cf1"><rect x="42.3" y="179.4" width="82.5" height="24.9"/></clipPath>
<rect x="42.3" y="179.4" width="82.5" height="24.9" fill="#e8e8e8" stroke="none" stroke-width="1.0"/>
<g clip-path="url(#cf1)">
<rect x="42.3" y="179.4" width="82.5" height="24.9" fill="#ffffff" opacity="0.1" filter="url(#nz)"/>
<rect x="43.6" y="189.3" width="18.0" height="6.0" rx="3.0" fill="#1c1c1c" opacity="0.837" filter="url(#b1)"/>
<rect x="63.6" y="189.4" width="17.8" height="5.8" rx="2.9" fill="#1c1c1c" opacity="0.808" filter="url(#b1)"/>
<rect x="86.4" y="189.7" width="13.6" height="4.6" rx="2.3" fill="#1c1c1c" opacity="0.394" filter="url(#b2)"/>
<rect x="106.2" y="190.1" width="13.8" height="3.8" rx="1.9" fill="#1c1c1c" opacity="0.096" filter="url(#b2)"/>
</g>
<rect x="42.3" y="179.4" width="82.5" height="24.9" fill="none" stroke="#333333" stroke-width="1.15"/>
<text x="39.8" y="194.4" font-size="5.9" fill="#1a1a1a" stroke="#1a1a1a" text-anchor="end">80 kD-</text>
<text x="128.2" y="195.3" font-size="8.5" fill="#1a1a1a" stroke="#1a1a1a" text-anchor="start">HBO1</text>
<clipPath id="cf2"><rect x="42.3" y="211.3" width="82.5" height="24.2"/></clipPath>
<rect x="42.3" y="211.3" width="82.5" height="24.2" fill="#e8e8e8" stroke="none" stroke-width="1.0"/>
<g clip-path="url(#cf2)">
<rect x="42.3" y="211.3" width="82.5" height="24.2" fill="#ffffff" opacity="0.1" filter="url(#nz)"/>
<rect x="43.0" y="217.6" width="17.4" height="8.4" rx="4.2" fill="#1c1c1c" opacity="0.817" filter="url(#b1)"/>
<rect x="63.2" y="218.4" width="17.0" height="7.6" rx="3.8" fill="#1c1c1c" opacity="0.798" filter="url(#b1)"/>
<rect x="83.2" y="217.1" width="18.4" height="9.0" rx="4.5" fill="#1c1c1c" opacity="0.827" filter="url(#b1)"/>
<rect x="104.2" y="217.4" width="18.4" height="9.2" rx="4.6" fill="#1c1c1c" opacity="0.779" filter="url(#b1)"/>
</g>
<rect x="42.3" y="211.3" width="82.5" height="24.2" fill="none" stroke="#333333" stroke-width="1.15"/>
<text x="39.8" y="222.7" font-size="5.9" fill="#1a1a1a" stroke="#1a1a1a" text-anchor="end">38 kD-</text>
<text x="128.2" y="226.1" font-size="8.5" fill="#1a1a1a" stroke="#1a1a1a" text-anchor="start">GAPDH</text>
<text x="69.1" y="245.0" font-size="9.4" fill="#3a6bc2" stroke="#3a6bc2" text-anchor="start">Day-42</text>
<line x1="187.5" y1="161.9" x2="187.5" y2="260.9" stroke="#898989" stroke-width="1.85" stroke-linecap="butt"/>
<line x1="184.7" y1="260.0" x2="187.5" y2="260.0" stroke="#898989" stroke-width="1.665" stroke-linecap="butt"/>
<line x1="184.7" y1="249.2" x2="187.5" y2="249.2" stroke="#898989" stroke-width="1.665" stroke-linecap="butt"/>
<line x1="184.7" y1="238.4" x2="187.5" y2="238.4" stroke="#898989" stroke-width="1.665" stroke-linecap="butt"/>
<line x1="184.7" y1="227.6" x2="187.5" y2="227.6" stroke="#898989" stroke-width="1.665" stroke-linecap="butt"/>
<line x1="184.7" y1="216.8" x2="187.5" y2="216.8" stroke="#898989" stroke-width="1.665" stroke-linecap="butt"/>
<line x1="184.7" y1="206.0" x2="187.5" y2="206.0" stroke="#898989" stroke-width="1.665" stroke-linecap="butt"/>
<line x1="184.7" y1="195.2" x2="187.5" y2="195.2" stroke="#898989" stroke-width="1.665" stroke-linecap="butt"/>
<line x1="184.7" y1="184.4" x2="187.5" y2="184.4" stroke="#898989" stroke-width="1.665" stroke-linecap="butt"/>
<line x1="184.7" y1="173.6" x2="187.5" y2="173.6" stroke="#898989" stroke-width="1.665" stroke-linecap="butt"/>
<line x1="184.7" y1="162.8" x2="187.5" y2="162.8" stroke="#898989" stroke-width="1.665" stroke-linecap="butt"/>
<text x="181.6" y="263.0" font-size="9.4" fill="#1a1a1a" stroke="#1a1a1a" text-anchor="end">0</text>
<text x="183.2" y="230.6" font-size="9.4" fill="#1a1a1a" stroke="#1a1a1a" text-anchor="end">0.3</text>
<text x="183.2" y="198.2" font-size="9.4" fill="#1a1a1a" stroke="#1a1a1a" text-anchor="end">0.6</text>
<text x="183.2" y="165.8" font-size="9.4" fill="#1a1a1a" stroke="#1a1a1a" text-anchor="end">0.9</text>
<line x1="186.6" y1="260.0" x2="230.7" y2="260.0" stroke="#898989" stroke-width="1.85" stroke-linecap="butt"/>
<line x1="187.5" y1="260.0" x2="187.5" y2="263.0" stroke="#898989" stroke-width="1.665" stroke-linecap="butt"/>
<line x1="208.6" y1="260.0" x2="208.6" y2="263.0" stroke="#898989" stroke-width="1.665" stroke-linecap="butt"/>
<line x1="229.5" y1="260.0" x2="229.5" y2="263.0" stroke="#898989" stroke-width="1.665" stroke-linecap="butt"/>
<rect x="191.4" y="179.0" width="13.4" height="81.0" fill="#d9d9d9" stroke="#8c8c8c" stroke-width="0.8"/>
<line x1="191.4" y1="178.6" x2="191.4" y2="260.0" stroke="#3a3a3a" stroke-width="0.8" stroke-linecap="butt"/>
<line x1="198.4" y1="173.3" x2="198.4" y2="186.2" stroke="#1a1a1a" stroke-width="0.95" stroke-linecap="butt"/>
<line x1="196.5" y1="173.3" x2="200.3" y2="173.3" stroke="#1a1a1a" stroke-width="0.95" stroke-linecap="butt"/>
<line x1="196.5" y1="186.2" x2="200.3" y2="186.2" stroke="#1a1a1a" stroke-width="0.95" stroke-linecap="butt"/>
<rect x="212.6" y="245.6" width="13.3" height="14.4" fill="#be2a30" stroke="#a3242a" stroke-width="0.5"/>
<line x1="219.2" y1="238.8" x2="219.2" y2="252.9" stroke="#1a1a1a" stroke-width="0.95" stroke-linecap="butt"/>
<line x1="217.3" y1="238.8" x2="221.1" y2="238.8" stroke="#1a1a1a" stroke-width="0.95" stroke-linecap="butt"/>
<line x1="217.3" y1="252.9" x2="221.1" y2="252.9" stroke="#1a1a1a" stroke-width="0.95" stroke-linecap="butt"/>
<text transform="translate(200.2 233.9) rotate(-90)" font-size="9.4" fill="#1a1a1a" stroke="#1a1a1a" text-anchor="start">aav-shC</text>
<text transform="translate(221.7 228.2) rotate(-90)" font-size="9.4" fill="#9e2428" stroke="#9e2428" text-anchor="start">aav-shHBO1</text>
<text x="219.1" y="240.0" font-size="14.6" fill="#1a1a1a" stroke="#1a1a1a" text-anchor="middle" font-weight="bold">*</text>
<text x="193.8" y="272.6" font-size="9.4" fill="#3a6bc2" stroke="#3a6bc2" text-anchor="start">Day-42</text>
<text transform="translate(167.5 272.6) rotate(-90)" font-size="9.65" fill="#1a1a1a" stroke="#1a1a1a" text-anchor="start">HBO1 protein (vs. GAPDH)</text>
<text x="228.5" y="161.9" font-size="16.4" font-weight="bold" fill="#1a1010" stroke="#1a1010" style="stroke-width:0.18px;font-kerning:none">G.</text>
<text x="272.8" y="165.7" font-size="9.4" fill="#1a1a1a" stroke="#1a1a1a" text-anchor="start">aav-shC</text>
<text x="314.2" y="165.7" font-size="9.4" fill="#c2292d" stroke="#c2292d" text-anchor="start">aav-shHBO1</text>
<text x="240.0" y="176.8" font-size="9.4" fill="#1a1a1a" stroke="#1a1a1a" text-anchor="start">Mouse</text>
<text x="273.2" y="176.6" font-size="8.9" fill="#1a1a1a" stroke="#1a1a1a" text-anchor="start">1#</text>
<text x="294.9" y="176.6" font-size="8.9" fill="#1a1a1a" stroke="#1a1a1a" text-anchor="start">2#</text>
<text x="317.4" y="176.6" font-size="8.9" fill="#c2292d" stroke="#c2292d" text-anchor="start">1#</text>
<text x="338.8" y="176.6" font-size="8.9" fill="#c2292d" stroke="#c2292d" text-anchor="start">2#</text>
<clipPath id="cg1"><rect x="270.6" y="179.6" width="83.1" height="15.5"/></clipPath>
<rect x="270.6" y="179.6" width="83.1" height="15.5" fill="#e3e3e3" stroke="none" stroke-width="1.0"/>
<g clip-path="url(#cg1)">
<rect x="270.6" y="179.6" width="83.1" height="15.5" fill="#ffffff" opacity="0.1" filter="url(#nz)"/>
<rect x="272.6" y="185.7" width="13.8" height="3.8" rx="1.9" fill="#1c1c1c" opacity="0.468" filter="url(#b0)"/>
<rect x="293.4" y="185.6" width="13.9" height="4.0" rx="2.0" fill="#1c1c1c" opacity="0.488" filter="url(#b0)"/>
<rect x="314.0" y="186.2" width="14.2" height="2.8" rx="1.4" fill="#1c1c1c" opacity="0.33" filter="url(#b0)"/>
<rect x="335.4" y="186.3" width="14.2" height="2.6" rx="1.3" fill="#1c1c1c" opacity="0.182" filter="url(#b0)"/>
</g>
<rect x="270.6" y="179.6" width="83.1" height="15.5" fill="none" stroke="#333333" stroke-width="1.15"/>
<text x="269.0" y="189.0" font-size="7.0" fill="#1a1a1a" stroke="#1a1a1a" text-anchor="end">11 kDa-</text>
<text x="356.5" y="189.8" font-size="9.2" fill="#1a1a1a" stroke="#1a1a1a" text-anchor="start">H4K5ac</text>
<clipPath id="cg2"><rect x="270.6" y="199.1" width="83.1" height="24.2"/></clipPath>
<rect x="270.6" y="199.1" width="83.1" height="24.2" fill="#e2e2e2" stroke="none" stroke-width="1.0"/>
<g clip-path="url(#cg2)">
<rect x="270.6" y="199.1" width="83.1" height="24.2" fill="#ffffff" opacity="0.1" filter="url(#nz)"/>
<rect x="272.6" y="202.4" width="13.8" height="5.0" rx="2.5" fill="#1c1c1c" opacity="0.485" filter="url(#b0)"/>
<rect x="293.4" y="202.4" width="13.9" height="5.0" rx="2.5" fill="#1c1c1c" opacity="0.485" filter="url(#b0)"/>
<rect x="314.0" y="203.2" width="14.2" height="3.4" rx="1.7" fill="#1c1c1c" opacity="0.267" filter="url(#b0)"/>
<rect x="335.4" y="203.4" width="14.2" height="3.0" rx="1.5" fill="#1c1c1c" opacity="0.059" filter="url(#b0)"/>
<rect x="272.6" y="214.1" width="13.8" height="3.8" rx="1.9" fill="#1c1c1c" opacity="0.396" filter="url(#b0)"/>
<rect x="293.4" y="214.1" width="13.9" height="3.8" rx="1.9" fill="#1c1c1c" opacity="0.386" filter="url(#b0)"/>
<rect x="314.0" y="214.5" width="14.2" height="3.0" rx="1.5" fill="#1c1c1c" opacity="0.069" filter="url(#b0)"/>
<rect x="335.4" y="214.5" width="14.2" height="3.0" rx="1.5" fill="#1c1c1c" opacity="0.059" filter="url(#b0)"/>
</g>
<rect x="270.6" y="199.1" width="83.1" height="24.2" fill="none" stroke="#333333" stroke-width="1.15"/>
<text x="269.0" y="206.9" font-size="7.0" fill="#1a1a1a" stroke="#1a1a1a" text-anchor="end">17 kDa-</text>
<text x="269.0" y="218.1" font-size="7.0" fill="#1a1a1a" stroke="#1a1a1a" text-anchor="end">11 kDa-</text>
<text x="356.5" y="208.1" font-size="9.2" fill="#1a1a1a" stroke="#1a1a1a" text-anchor="start">H3K14ac</text>
<text x="356.5" y="219.3" font-size="9.2" fill="#1a1a1a" stroke="#1a1a1a" text-anchor="start">H4K12ac</text>
<clipPath id="cg3"><rect x="270.6" y="230.2" width="83.1" height="24.2"/></clipPath>
<rect x="270.6" y="230.2" width="83.1" height="24.2" fill="#e3e3e3" stroke="none" stroke-width="1.0"/>
<g clip-path="url(#cg3)">
<rect x="270.6" y="230.2" width="83.1" height="24.2" fill="#ffffff" opacity="0.1" filter="url(#nz)"/>
<rect x="272.6" y="234.6" width="13.8" height="3.6" rx="1.8" fill="#1c1c1c" opacity="0.379" filter="url(#b0)"/>
<rect x="293.4" y="234.5" width="13.9" height="3.8" rx="1.9" fill="#1c1c1c" opacity="0.488" filter="url(#b0)"/>
<rect x="314.0" y="234.5" width="14.2" height="3.8" rx="1.9" fill="#1c1c1c" opacity="0.478" filter="url(#b0)"/>
<rect x="335.4" y="234.5" width="14.2" height="3.8" rx="1.9" fill="#1c1c1c" opacity="0.498" filter="url(#b0)"/>
<rect x="272.0" y="246.2" width="15.4" height="5.2" rx="2.6" fill="#1c1c1c" opacity="0.773" filter="url(#b0)"/>
<rect x="292.6" y="246.0" width="15.6" height="5.6" rx="2.8" fill="#1c1c1c" opacity="0.842" filter="url(#b0)"/>
<rect x="314.0" y="246.5" width="12.6" height="4.6" rx="2.3" fill="#1c1c1c" opacity="0.704" filter="url(#b0)"/>
<rect x="335.0" y="246.2" width="15.6" height="5.2" rx="2.6" fill="#1c1c1c" opacity="0.793" filter="url(#b0)"/>
<rect x="324.0" y="247.7" width="7.0" height="3.0" rx="1.5" fill="#1c1c1c" opacity="0.379" filter="url(#b0)"/>
</g>
<rect x="270.6" y="230.2" width="83.1" height="24.2" fill="none" stroke="#333333" stroke-width="1.15"/>
<text x="269.0" y="240.1" font-size="7.0" fill="#1a1a1a" stroke="#1a1a1a" text-anchor="end">17 kDa-</text>
<text x="269.0" y="251.5" font-size="7.0" fill="#1a1a1a" stroke="#1a1a1a" text-anchor="end">11 kDa-</text>
<text x="356.5" y="240.3" font-size="9.2" fill="#1a1a1a" stroke="#1a1a1a" text-anchor="start">H3</text>
<text x="356.5" y="251.2" font-size="9.2" fill="#1a1a1a" stroke="#1a1a1a" text-anchor="start">H4</text>
<clipPath id="cg4"><rect x="270.6" y="261.0" width="83.1" height="19.2"/></clipPath>
<rect x="270.6" y="261.0" width="83.1" height="19.2" fill="#e0e0e0" stroke="none" stroke-width="1.0"/>
<g clip-path="url(#cg4)">
<rect x="270.6" y="261.0" width="83.1" height="19.2" fill="#ffffff" opacity="0.1" filter="url(#nz)"/>
<rect x="272.6" y="266.7" width="16.4" height="7.4" rx="3.7" fill="#1c1c1c" opacity="0.87" filter="url(#b1)"/>
<rect x="292.8" y="266.7" width="15.8" height="7.4" rx="3.7" fill="#1c1c1c" opacity="0.87" filter="url(#b1)"/>
<rect x="312.6" y="266.7" width="18.2" height="7.4" rx="3.7" fill="#1c1c1c" opacity="0.87" filter="url(#b1)"/>
<rect x="334.0" y="266.7" width="17.6" height="7.4" rx="3.7" fill="#1c1c1c" opacity="0.87" filter="url(#b1)"/>
</g>
<rect x="270.6" y="261.0" width="83.1" height="19.2" fill="none" stroke="#333333" stroke-width="1.15"/>
<text x="269.0" y="274.7" font-size="7.0" fill="#1a1a1a" stroke="#1a1a1a" text-anchor="end">55 kDa-</text>
<text x="356.5" y="274.5" font-size="9.2" fill="#1a1a1a" stroke="#1a1a1a" text-anchor="start">Tubulin</text>
<text x="299.6" y="289.4" font-size="9.4" fill="#3a6bc2" stroke="#3a6bc2" text-anchor="start">Day-42</text>
<line x1="427.5" y1="163.7" x2="427.5" y2="256.6" stroke="#898989" stroke-width="1.85" stroke-linecap="butt"/>
<line x1="424.7" y1="255.7" x2="427.5" y2="255.7" stroke="#898989" stroke-width="1.665" stroke-linecap="butt"/>
<line x1="424.7" y1="237.5" x2="427.5" y2="237.5" stroke="#898989" stroke-width="1.665" stroke-linecap="butt"/>
<line x1="424.7" y1="219.3" x2="427.5" y2="219.3" stroke="#898989" stroke-width="1.665" stroke-linecap="butt"/>
<line x1="424.7" y1="201.1" x2="427.5" y2="201.1" stroke="#898989" stroke-width="1.665" stroke-linecap="butt"/>
<line x1="424.7" y1="182.9" x2="427.5" y2="182.9" stroke="#898989" stroke-width="1.665" stroke-linecap="butt"/>
<line x1="424.7" y1="164.7" x2="427.5" y2="164.7" stroke="#898989" stroke-width="1.665" stroke-linecap="butt"/>
<text x="421.8" y="258.7" font-size="9.4" fill="#1a1a1a" stroke="#1a1a1a" text-anchor="end">0</text>
<text x="423.6" y="240.5" font-size="9.4" fill="#1a1a1a" stroke="#1a1a1a" text-anchor="end">0.2</text>
<text x="423.6" y="222.3" font-size="9.4" fill="#1a1a1a" stroke="#1a1a1a" text-anchor="end">0.4</text>
<text x="423.6" y="204.1" font-size="9.4" fill="#1a1a1a" stroke="#1a1a1a" text-anchor="end">0.6</text>
<text x="423.6" y="185.9" font-size="9.4" fill="#1a1a1a" stroke="#1a1a1a" text-anchor="end">0.8</text>
<text x="421.8" y="167.7" font-size="9.4" fill="#1a1a1a" stroke="#1a1a1a" text-anchor="end">1</text>
<line x1="426.6" y1="255.7" x2="483.6" y2="255.7" stroke="#898989" stroke-width="1.85" stroke-linecap="butt"/>
<line x1="427.5" y1="255.7" x2="427.5" y2="259.0" stroke="#898989" stroke-width="1.665" stroke-linecap="butt"/>
<line x1="441.2" y1="255.7" x2="441.2" y2="259.0" stroke="#898989" stroke-width="1.665" stroke-linecap="butt"/>
<line x1="455.0" y1="255.7" x2="455.0" y2="259.0" stroke="#898989" stroke-width="1.665" stroke-linecap="butt"/>
<line x1="468.7" y1="255.7" x2="468.7" y2="259.0" stroke="#898989" stroke-width="1.665" stroke-linecap="butt"/>
<line x1="482.4" y1="255.7" x2="482.4" y2="259.0" stroke="#898989" stroke-width="1.665" stroke-linecap="butt"/>
<rect x="430.4" y="191.4" width="9.0" height="64.3" fill="#ddd9c4" stroke="#8c8c8c" stroke-width="0.8"/>
<line x1="430.4" y1="191.0" x2="430.4" y2="255.7" stroke="#3a3a3a" stroke-width="0.8" stroke-linecap="butt"/>
<line x1="434.9" y1="177.7" x2="434.9" y2="206.6" stroke="#1a1a1a" stroke-width="0.95" stroke-linecap="butt"/>
<line x1="433.0" y1="177.7" x2="436.8" y2="177.7" stroke="#1a1a1a" stroke-width="0.95" stroke-linecap="butt"/>
<line x1="433.0" y1="206.6" x2="436.8" y2="206.6" stroke="#1a1a1a" stroke-width="0.95" stroke-linecap="butt"/>
<rect x="444.0" y="249.2" width="9.8" height="6.5" fill="#be2a30" stroke="#a3242a" stroke-width="0.5"/>
<line x1="448.8" y1="248.0" x2="448.8" y2="251.4" stroke="#1a1a1a" stroke-width="0.95" stroke-linecap="butt"/>
<line x1="447.1" y1="248.0" x2="450.5" y2="248.0" stroke="#1a1a1a" stroke-width="0.95" stroke-linecap="butt"/>
<line x1="447.1" y1="251.4" x2="450.5" y2="251.4" stroke="#1a1a1a" stroke-width="0.95" stroke-linecap="butt"/>
<rect x="457.5" y="229.3" width="9.5" height="26.4" fill="#ddd9c4" stroke="#8c8c8c" stroke-width="0.8"/>
<line x1="457.5" y1="228.9" x2="457.5" y2="255.7" stroke="#3a3a3a" stroke-width="0.8" stroke-linecap="butt"/>
<line x1="462.4" y1="221.4" x2="462.4" y2="239.0" stroke="#1a1a1a" stroke-width="0.95" stroke-linecap="butt"/>
<line x1="460.5" y1="221.4" x2="464.3" y2="221.4" stroke="#1a1a1a" stroke-width="0.95" stroke-linecap="butt"/>
<line x1="460.5" y1="239.0" x2="464.3" y2="239.0" stroke="#1a1a1a" stroke-width="0.95" stroke-linecap="butt"/>
<rect x="471.3" y="250.5" width="9.5" height="5.2" fill="#be2a30" stroke="#a3242a" stroke-width="0.5"/>
<line x1="476.1" y1="249.4" x2="476.1" y2="252.2" stroke="#1a1a1a" stroke-width="0.95" stroke-linecap="butt"/>
<line x1="474.4" y1="249.4" x2="477.8" y2="249.4" stroke="#1a1a1a" stroke-width="0.95" stroke-linecap="butt"/>
<line x1="474.4" y1="252.2" x2="477.8" y2="252.2" stroke="#1a1a1a" stroke-width="0.95" stroke-linecap="butt"/>
<text x="448.3" y="247.7" font-size="14.6" fill="#1a1a1a" stroke="#1a1a1a" text-anchor="middle" font-weight="bold">*</text>
<text x="476.3" y="247.7" font-size="14.6" fill="#1a1a1a" stroke="#1a1a1a" text-anchor="middle" font-weight="bold">*</text>
<text x="485.8" y="253.4" font-size="9.4" fill="#1a1a1a" stroke="#1a1a1a" text-anchor="start">n = 5</text>
<text x="475.7" y="270.9" font-size="9.4" fill="#3a6bc2" stroke="#3a6bc2" text-anchor="start">Day-42</text>
<rect x="434.9" y="158.2" width="7.4" height="7.4" fill="#ddd9c4" stroke="#8c8c8c" stroke-width="0.8"/>
<rect x="434.9" y="168.2" width="7.4" height="6.6" fill="#be2a30" stroke="#9a2428" stroke-width="0.6"/>
<text x="444.1" y="166.0" font-size="9.4" fill="#1a1a1a" stroke="#1a1a1a" text-anchor="start">aav-shC</text>
<text x="444.1" y="174.9" font-size="9.4" fill="#c2292d" stroke="#c2292d" text-anchor="start">aav-shHBO1</text>
<text transform="translate(406.3 272.9) rotate(-90)" font-size="9.65" fill="#1a1a1a" stroke="#1a1a1a" text-anchor="start">Intensity (vs. Total histone)</text>
<text transform="translate(445.2 263.6) rotate(-45)" font-size="9.4" fill="#1a1a1a" stroke="#1a1a1a" text-anchor="end">H3K14ac</text>
<text transform="translate(473.0 263.6) rotate(-45)" font-size="9.4" fill="#1a1a1a" stroke="#1a1a1a" text-anchor="end">H4K12ac</text>
<text x="499.5" y="161.9" font-size="16.4" font-weight="bold" fill="#1a1010" stroke="#1a1010" style="stroke-width:0.18px;font-kerning:none">H.</text>
<text x="540.7" y="165.7" font-size="9.4" fill="#1a1a1a" stroke="#1a1a1a" text-anchor="start">aav-shC</text>
<text x="583.9" y="165.7" font-size="9.4" fill="#c2292d" stroke="#c2292d" text-anchor="start">aav-shHBO1</text>
<text x="510.0" y="176.8" font-size="9.4" fill="#1a1a1a" stroke="#1a1a1a" text-anchor="start">Mouse</text>
<text x="542.7" y="176.6" font-size="8.9" fill="#1a1a1a" stroke="#1a1a1a" text-anchor="start">1#</text>
<text x="564.0" y="176.6" font-size="8.9" fill="#1a1a1a" stroke="#1a1a1a" text-anchor="start">2#</text>
<text x="586.7" y="176.6" font-size="8.9" fill="#c2292d" stroke="#c2292d" text-anchor="start">1#</text>
<text x="608.0" y="176.6" font-size="8.9" fill="#c2292d" stroke="#c2292d" text-anchor="start">2#</text>
<text x="627.4" y="176.8" font-size="9.4" fill="#3a6bc2" stroke="#3a6bc2" text-anchor="start">Day-42</text>
<clipPath id="ch1"><rect x="537.6" y="181.0" width="85.1" height="20.6"/></clipPath>
<rect x="537.6" y="181.0" width="85.1" height="20.6" fill="#dcdcdc" stroke="none" stroke-width="1.0"/>
<g clip-path="url(#ch1)">
<rect x="537.6" y="181.0" width="85.1" height="20.6" fill="#ffffff" opacity="0.08" filter="url(#nz)"/>
<rect x="540.6" y="188.9" width="13.4" height="2.2" rx="1.1" fill="#1c1c1c" opacity="0.51" filter="url(#b0)"/>
<rect x="561.6" y="188.9" width="12.2" height="2.1" rx="1.1" fill="#1c1c1c" opacity="0.408" filter="url(#b0)"/>
<rect x="583.4" y="189.1" width="9.4" height="1.8" rx="0.9" fill="#1c1c1c" opacity="0.133" filter="url(#b0)"/>
<rect x="604.2" y="189.1" width="11.6" height="1.8" rx="0.9" fill="#1c1c1c" opacity="0.122" filter="url(#b0)"/>
</g>
<rect x="537.6" y="181.0" width="85.1" height="20.6" fill="none" stroke="#333333" stroke-width="1.15"/>
<text x="535.9" y="191.7" font-size="5.9" fill="#1a1a1a" stroke="#1a1a1a" text-anchor="end">35 kD-</text>
<text x="623.5" y="192.6" font-size="8.45" fill="#1a1a1a" stroke="#1a1a1a" text-anchor="start">Pro-Caspase-3</text>
<clipPath id="ch2"><rect x="537.6" y="202.7" width="85.1" height="13.5"/></clipPath>
<rect x="537.6" y="202.7" width="85.1" height="13.5" fill="#f0f0f0" stroke="none" stroke-width="1.0"/>
<g clip-path="url(#ch2)">
<rect x="537.6" y="202.7" width="85.1" height="13.5" fill="#ffffff" opacity="0.08" filter="url(#nz)"/>
<rect x="584.8" y="207.0" width="13.0" height="4.0" rx="2.0" fill="#1c1c1c" opacity="0.472" filter="url(#b0)"/>
<rect x="604.6" y="207.0" width="16.0" height="4.0" rx="2.0" fill="#1c1c1c" opacity="0.347" filter="url(#b0)"/>
</g>
<rect x="537.6" y="202.7" width="85.1" height="13.5" fill="none" stroke="#333333" stroke-width="1.15"/>
<text x="535.9" y="210.7" font-size="5.9" fill="#1a1a1a" stroke="#1a1a1a" text-anchor="end">17 kD-</text>
<text x="622.9" y="212.3" font-size="8.45" fill="#1a1a1a" stroke="#1a1a1a" text-anchor="start">Clvd-Caspase-3</text>
<clipPath id="ch3"><rect x="537.6" y="219.5" width="85.1" height="18.9"/></clipPath>
<rect x="537.6" y="219.5" width="85.1" height="18.9" fill="#e8e8e8" stroke="none" stroke-width="1.0"/>
<g clip-path="url(#ch3)">
<rect x="537.6" y="219.5" width="85.1" height="18.9" fill="#ffffff" opacity="0.08" filter="url(#nz)"/>
<rect x="538.8" y="226.2" width="18.2" height="4.8" rx="2.4" fill="#1c1c1c" opacity="0.846" filter="url(#b0)"/>
<rect x="561.6" y="226.4" width="13.4" height="4.4" rx="2.2" fill="#1c1c1c" opacity="0.692" filter="url(#b0)"/>
<rect x="582.6" y="226.8" width="11.4" height="3.6" rx="1.8" fill="#1c1c1c" opacity="0.394" filter="url(#b0)"/>
<rect x="605.0" y="226.8" width="14.6" height="3.6" rx="1.8" fill="#1c1c1c" opacity="0.394" filter="url(#b0)"/>
</g>
<rect x="537.6" y="219.5" width="85.1" height="18.9" fill="none" stroke="#333333" stroke-width="1.15"/>
<text x="535.9" y="231.8" font-size="5.9" fill="#1a1a1a" stroke="#1a1a1a" text-anchor="end">116 kD-</text>
<text x="623.5" y="231.9" font-size="8.45" fill="#1a1a1a" stroke="#1a1a1a" text-anchor="start">Pro-PARP</text>
<clipPath id="ch4"><rect x="537.6" y="241.3" width="85.1" height="20.3"/></clipPath>
<rect x="537.6" y="241.3" width="85.1" height="20.3" fill="#f0f0f0" stroke="none" stroke-width="1.0"/>
<g clip-path="url(#ch4)">
<rect x="537.6" y="241.3" width="85.1" height="20.3" fill="#ffffff" opacity="0.08" filter="url(#nz)"/>
<rect x="582.0" y="249.9" width="16.6" height="3.4" rx="1.7" fill="#1c1c1c" opacity="0.37" filter="url(#b0)"/>
<rect x="604.8" y="249.9" width="16.6" height="3.4" rx="1.7" fill="#1c1c1c" opacity="0.37" filter="url(#b0)"/>
</g>
<rect x="537.6" y="241.3" width="85.1" height="20.3" fill="none" stroke="#333333" stroke-width="1.15"/>
<text x="535.9" y="253.3" font-size="5.9" fill="#1a1a1a" stroke="#1a1a1a" text-anchor="end">89 kD-</text>
<text x="622.9" y="253.3" font-size="8.45" fill="#1a1a1a" stroke="#1a1a1a" text-anchor="start">Clvd-PARP</text>
<clipPath id="ch5"><rect x="537.6" y="264.2" width="85.1" height="20.2"/></clipPath>
<rect x="537.6" y="264.2" width="85.1" height="20.2" fill="#e4e4e4" stroke="none" stroke-width="1.0"/>
<g clip-path="url(#ch5)">
<rect x="537.6" y="264.2" width="85.1" height="20.2" fill="#ffffff" opacity="0.08" filter="url(#nz)"/>
<rect x="538.4" y="271.2" width="19.8" height="5.2" rx="2.6" fill="#1c1c1c" opacity="0.902" filter="url(#b0)"/>
<rect x="562.6" y="271.5" width="15.8" height="4.6" rx="2.3" fill="#1c1c1c" opacity="0.716" filter="url(#b0)"/>
<rect x="584.2" y="272.0" width="13.4" height="3.6" rx="1.8" fill="#1c1c1c" opacity="0.471" filter="url(#b0)"/>
<rect x="606.0" y="271.9" width="14.4" height="3.8" rx="1.9" fill="#1c1c1c" opacity="0.49" filter="url(#b0)"/>
</g>
<rect x="537.6" y="264.2" width="85.1" height="20.2" fill="none" stroke="#333333" stroke-width="1.15"/>
<text x="535.9" y="276.1" font-size="5.9" fill="#1a1a1a" stroke="#1a1a1a" text-anchor="end">47 kD-</text>
<text x="623.5" y="277.5" font-size="8.45" fill="#1a1a1a" stroke="#1a1a1a" text-anchor="start">Pro-Caspase-9</text>
<clipPath id="ch6"><rect x="537.6" y="287.4" width="85.1" height="15.8"/></clipPath>
<rect x="537.6" y="287.4" width="85.1" height="15.8" fill="#f0f0f0" stroke="none" stroke-width="1.0"/>
<g clip-path="url(#ch6)">
<rect x="537.6" y="287.4" width="85.1" height="15.8" fill="#ffffff" opacity="0.08" filter="url(#nz)"/>
<rect x="584.2" y="293.9" width="13.6" height="3.6" rx="1.8" fill="#1c1c1c" opacity="0.241" filter="url(#b0)"/>
<rect x="605.6" y="293.9" width="15.0" height="3.6" rx="1.8" fill="#1c1c1c" opacity="0.269" filter="url(#b0)"/>
</g>
<rect x="537.6" y="287.4" width="85.1" height="15.8" fill="none" stroke="#333333" stroke-width="1.15"/>
<text x="535.9" y="298.3" font-size="5.9" fill="#1a1a1a" stroke="#1a1a1a" text-anchor="end">39 kD-</text>
<text x="622.9" y="299.0" font-size="8.45" fill="#1a1a1a" stroke="#1a1a1a" text-anchor="start">Clvd-Caspase-9</text>
<clipPath id="ch7"><rect x="537.6" y="305.0" width="85.1" height="20.5"/></clipPath>
<rect x="537.6" y="305.0" width="85.1" height="20.5" fill="#e0e0e0" stroke="none" stroke-width="1.0"/>
<g clip-path="url(#ch7)">
<rect x="537.6" y="305.0" width="85.1" height="20.5" fill="#ffffff" opacity="0.08" filter="url(#nz)"/>
<rect x="538.4" y="314.0" width="18.6" height="3.8" rx="1.9" fill="#1c1c1c" opacity="0.54" filter="url(#b0)"/>
<rect x="561.4" y="314.0" width="17.0" height="3.8" rx="1.9" fill="#1c1c1c" opacity="0.54" filter="url(#b0)"/>
<rect x="583.0" y="314.0" width="16.0" height="3.8" rx="1.9" fill="#1c1c1c" opacity="0.54" filter="url(#b0)"/>
<rect x="603.4" y="313.8" width="18.2" height="4.2" rx="2.1" fill="#1c1c1c" opacity="0.56" filter="url(#b0)"/>
</g>
<rect x="537.6" y="305.0" width="85.1" height="20.5" fill="none" stroke="#333333" stroke-width="1.15"/>
<text x="535.9" y="317.8" font-size="5.9" fill="#1a1a1a" stroke="#1a1a1a" text-anchor="end">55 kD-</text>
<text x="623.5" y="318.7" font-size="8.45" fill="#1a1a1a" stroke="#1a1a1a" text-anchor="start">Tubulin</text>
</svg></body></html>
